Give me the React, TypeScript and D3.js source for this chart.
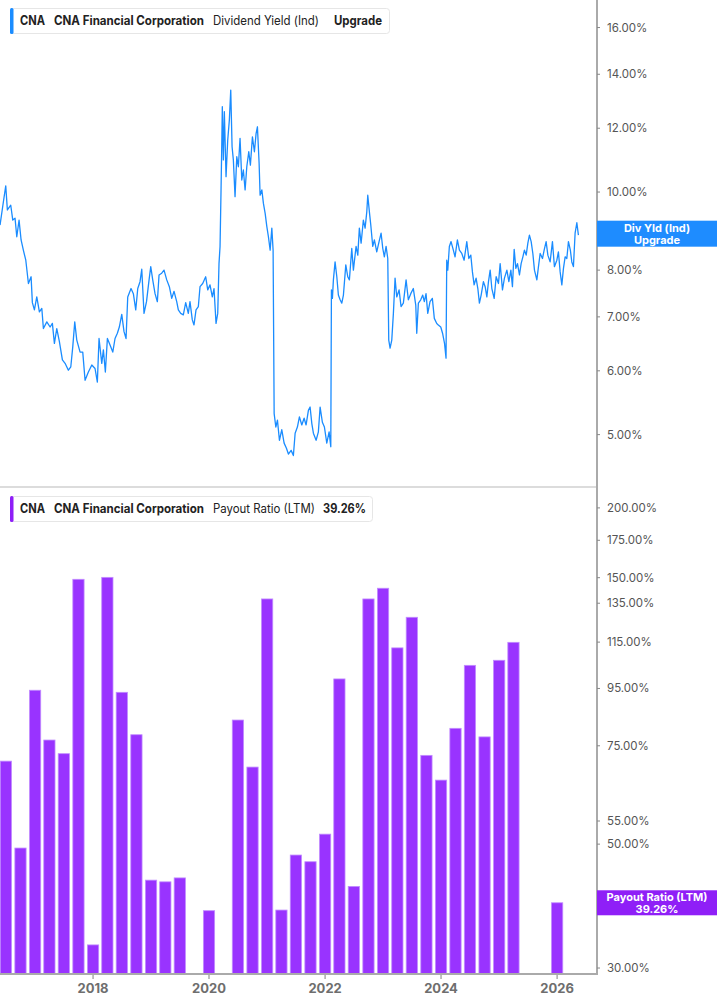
import * as d3 from 'd3'
import React from 'react'

// dividend yield (ind), [decimal year, %]
const yield2016to2018: [number, number][] = [
  [2016.397, 9.10], [2016.454, 9.72], [2016.495, 10.18], [2016.523, 9.50], [2016.581, 9.63],
  [2016.616, 9.23], [2016.655, 9.28], [2016.685, 8.80], [2016.724, 9.23], [2016.759, 8.72],
  [2016.798, 8.47], [2016.840, 8.23], [2016.885, 7.70], [2016.931, 7.85], [2016.953, 7.29],
  [2016.988, 7.14], [2017.029, 7.41], [2017.074, 7.10], [2017.116, 7.17], [2017.143, 6.77],
  [2017.202, 6.90], [2017.259, 6.80], [2017.298, 6.87], [2017.333, 6.49], [2017.374, 6.77],
  [2017.419, 6.52], [2017.471, 6.19], [2017.517, 6.13], [2017.574, 6.01], [2017.616, 6.07],
  [2017.650, 6.43], [2017.684, 6.90], [2017.719, 6.55], [2017.776, 6.33], [2017.822, 6.33],
  [2017.862, 5.84], [2017.919, 5.98], [2017.978, 6.10], [2018.034, 6.04], [2018.074, 5.81],
  [2018.103, 6.58], [2018.150, 6.13], [2018.178, 6.37], [2018.212, 5.98], [2018.247, 6.58],
  [2018.293, 6.46], [2018.340, 6.33], [2018.379, 6.58], [2018.419, 6.68], [2018.453, 6.80],
  [2018.495, 7.05], [2018.534, 6.71], [2018.569, 6.58], [2018.598, 7.41], [2018.655, 7.59],
  [2018.695, 7.48], [2018.736, 7.14], [2018.771, 7.59], [2018.810, 7.74], [2018.840, 8.02],
  [2018.879, 7.07], [2018.922, 7.31], [2018.966, 7.78], [2018.995, 8.08],
]

const yield2019to2020: [number, number][] = [
  [2019.029, 7.78], [2019.069, 7.48], [2019.109, 7.31], [2019.138, 7.89], [2019.184, 7.93],
  [2019.224, 8.00], [2019.271, 7.78], [2019.316, 7.63], [2019.357, 7.38], [2019.397, 7.53],
  [2019.443, 7.31], [2019.471, 7.14], [2019.512, 7.07], [2019.557, 7.04], [2019.598, 7.29],
  [2019.643, 7.07], [2019.672, 7.31], [2019.712, 6.94], [2019.741, 6.84], [2019.776, 7.14],
  [2019.816, 7.21], [2019.845, 7.63], [2019.891, 7.70], [2019.943, 7.85], [2019.978, 7.56],
  [2020.017, 7.67], [2020.057, 7.41], [2020.086, 7.59], [2020.121, 6.87], [2020.150, 7.07],
  [2020.172, 8.15], [2020.190, 8.56], [2020.207, 10.06], [2020.219, 11.38], [2020.229, 12.76],
  [2020.247, 10.96], [2020.264, 12.58], [2020.293, 10.45], [2020.322, 11.60], [2020.350, 12.28],
  [2020.374, 13.38], [2020.397, 11.38], [2020.419, 10.96], [2020.448, 9.87], [2020.478, 11.06],
  [2020.505, 10.75], [2020.534, 11.66], [2020.564, 10.35], [2020.591, 10.65], [2020.621, 10.06],
  [2020.650, 10.75], [2020.684, 11.22], [2020.712, 10.80], [2020.747, 11.71], [2020.781, 11.22],
  [2020.810, 11.82], [2020.833, 12.05], [2020.862, 10.86], [2020.879, 9.91], [2020.909, 10.06],
  [2020.936, 9.68], [2020.966, 9.41], [2020.995, 9.06],
]

const yield2021to2022: [number, number][] = [
  [2021.022, 8.80], [2021.052, 8.47], [2021.081, 9.02], [2021.103, 8.47], [2021.121, 5.31],
  [2021.150, 5.11], [2021.178, 5.21], [2021.212, 4.92], [2021.253, 5.07], [2021.293, 4.88],
  [2021.333, 4.81], [2021.367, 4.73], [2021.414, 4.78], [2021.453, 4.71], [2021.483, 5.02],
  [2021.522, 5.11], [2021.557, 5.26], [2021.598, 5.14], [2021.638, 5.24], [2021.672, 5.14],
  [2021.712, 5.36], [2021.741, 5.41], [2021.771, 5.16], [2021.798, 5.02], [2021.845, 4.92],
  [2021.884, 5.04], [2021.914, 5.41], [2021.953, 5.18], [2021.988, 5.11], [2022.029, 4.88],
  [2022.069, 5.04], [2022.098, 4.83], [2022.109, 7.56], [2022.126, 7.38], [2022.143, 7.78],
  [2022.172, 8.19], [2022.202, 7.85], [2022.229, 7.45], [2022.259, 7.35], [2022.288, 7.28],
  [2022.316, 7.45], [2022.357, 8.12], [2022.391, 7.85], [2022.419, 7.78], [2022.460, 8.51],
  [2022.488, 8.00], [2022.534, 8.56], [2022.564, 8.35], [2022.591, 9.02], [2022.621, 8.64],
  [2022.660, 9.23], [2022.690, 9.02], [2022.719, 9.45], [2022.736, 9.91], [2022.764, 9.45],
  [2022.788, 9.10], [2022.822, 8.56], [2022.850, 8.72], [2022.891, 8.43], [2022.931, 8.68],
  [2022.966, 8.89], [2022.995, 8.51],
]

const yield2023to2024: [number, number][] = [
  [2023.022, 8.31], [2023.052, 8.56], [2023.081, 8.27], [2023.098, 6.55], [2023.121, 6.40],
  [2023.150, 6.55], [2023.178, 7.07], [2023.207, 7.82], [2023.236, 7.41], [2023.276, 7.56],
  [2023.310, 7.21], [2023.350, 7.28], [2023.397, 7.78], [2023.436, 7.35], [2023.478, 7.48],
  [2023.522, 7.59], [2023.564, 7.24], [2023.581, 6.68], [2023.609, 7.28], [2023.650, 7.35],
  [2023.684, 7.45], [2023.712, 7.31], [2023.741, 7.48], [2023.771, 7.07], [2023.810, 7.31],
  [2023.850, 7.38], [2023.884, 6.97], [2023.926, 6.87], [2023.953, 6.84], [2023.995, 6.80],
  [2024.026, 6.68], [2024.060, 6.49], [2024.086, 6.22], [2024.098, 8.23], [2024.116, 8.00],
  [2024.143, 8.56], [2024.172, 8.68], [2024.212, 8.47], [2024.241, 8.31], [2024.281, 8.72],
  [2024.316, 8.47], [2024.357, 8.39], [2024.397, 8.23], [2024.443, 8.68], [2024.478, 8.27],
  [2024.512, 8.35], [2024.540, 7.96], [2024.569, 7.67], [2024.603, 7.82], [2024.633, 7.59],
  [2024.660, 7.28], [2024.690, 7.45], [2024.729, 7.74], [2024.759, 7.63], [2024.788, 7.41],
  [2024.816, 7.74], [2024.845, 8.00], [2024.874, 7.59], [2024.914, 7.38], [2024.948, 7.85],
  [2024.988, 7.70],
]

const yield2025to2026: [number, number][] = [
  [2025.017, 8.15], [2025.057, 7.56], [2025.091, 7.82], [2025.133, 8.00], [2025.167, 7.74],
  [2025.202, 8.00], [2025.229, 7.63], [2025.259, 8.49], [2025.288, 8.04], [2025.316, 8.15],
  [2025.350, 7.89], [2025.379, 8.15], [2025.409, 8.31], [2025.436, 8.47], [2025.466, 8.35],
  [2025.495, 8.64], [2025.522, 8.84], [2025.552, 8.68], [2025.581, 8.39], [2025.609, 8.00],
  [2025.650, 7.78], [2025.678, 8.08], [2025.707, 8.39], [2025.747, 8.27], [2025.776, 8.47],
  [2025.810, 8.68], [2025.840, 8.35], [2025.879, 8.19], [2025.919, 8.68], [2025.953, 8.08],
  [2025.995, 8.23], [2026.022, 8.43], [2026.052, 7.96], [2026.081, 7.67], [2026.109, 8.04],
  [2026.138, 8.31], [2026.167, 8.27], [2026.195, 8.68], [2026.228, 8.47], [2026.253, 8.19],
  [2026.281, 8.08], [2026.310, 8.89], [2026.340, 9.16], [2026.367, 8.84],
]

// payout ratio (LTM), quarterly from Q3 2016, null = not reported
const payoutStart = '2016-07-01'
const payoutRatio: (number | null)[] = [
  70.4, 49.2, 94.3, 76.8, 72.6, 149.0, 33.0, 150.2, 93.5, 78.5,
  43.1, 42.8, 43.5, null, 38.0, null, 83.4, 68.7, 137.4, 38.1,
  47.8, 46.5, 52.1, 98.8, 42.0, 137.4, 143.6, 112.3, 127.4, 72.1,
  65.1, 80.6, 104.5, 77.8, 106.7, 114.9, null, null, 39.26,
]

const yieldTicks = [5, 6, 7, 8, 10, 12, 14, 16]
const payoutTicks = [30, 50, 55, 75, 95, 115, 135, 150, 175, 200]
const yearTicks = ['2018', '2020', '2022', '2024', '2026']

const W = 717, H = 1005
const plotR = 597
const topB = 487
const botB = 974
const font = 'Inter, Roboto, sans-serif'
const blue = '#1a8cff'
const purple = '#9933ff'

const toDate = (t: number) => {
  const y = Math.floor(t)
  const a = +new Date(y, 0, 1), b = +new Date(y + 1, 0, 1)
  return new Date(a + (t - y) * (b - a))
}

// legend chip: accent + texts squeezed to the widths seen in the source
const Legend = ({ y, w, color, items }: { y: number, w: number, color: string, items: [string, number, number, boolean][] }) => (
  <g transform={`translate(10,${y})`}>
    <rect x={0.5} y={0.5} width={w} height={25} rx={3} fill='#fff' stroke='#e6e6e6' />
    <rect x={0} y={0} width={3.5} height={26} rx={1.5} fill={color} />
    {items.map(([s, x0, len, bold]) => (
      <text key={s} x={x0} y={17} fontSize={12.5} fill='#222' fontWeight={bold ? 700 : 400}
        textLength={len} lengthAdjust='spacingAndGlyphs'>{s}</text>
    ))}
  </g>
)

export default function App() {
  const
    divYield = [...yield2016to2018, ...yield2019to2020, ...yield2021to2022, ...yield2023to2024, ...yield2025to2026],
    x = d3.scaleTime().domain([new Date(2016, 4, 25), new Date(2026, 8, 9)]).range([0, plotR]),
    yTop = d3.scaleLog().domain([4.305, 17.31]).range([topB, 0]),
    yBot = d3.scaleLog().domain([29.27, 218]).range([botB, topB]),
    ln = d3.line<[number, number]>()
      .x(d => x(toDate(d[0])))
      .y(d => yTop(d[1])),
    q0 = new Date(payoutStart),
    bars = payoutRatio.map((v, i) => ({ d: d3.timeMonth.offset(q0, i * 3), v })),
    slot = x(d3.timeMonth.offset(q0, 3)) - x(q0),
    bw = slot * 0.77,
    fmt = (v: number) => d3.format('.2f')(v) + '%',
    last = divYield[divYield.length - 1][1],
    lastPayout = payoutRatio[payoutRatio.length - 1] as number

  return (
    <svg width={W} height={H} style={{ position: 'absolute', left: 0, top: 0, background: '#fff' }} fontFamily={font}>
      <defs>
        <clipPath id='topclip'><rect x={0} y={0} width={plotR} height={topB} /></clipPath>
      </defs>

      {/* top panel: dividend yield */}
      <path d={ln(divYield) as string} fill='none' stroke={blue} strokeWidth={1.3} strokeLinejoin='round' clipPath='url(#topclip)' />

      {/* bottom panel: payout ratio bars */}
      {bars.filter(b => b.v != null).map((b, i) => (
        <rect key={i} x={x(b.d) - bw / 2} y={yBot(b.v as number)} width={bw} height={botB - yBot(b.v as number)}
          fill={purple} stroke='#c18cff' strokeWidth={0.8} />
      ))}

      {/* separator and axes */}
      <line x1={0} x2={plotR} y1={topB} y2={topB} stroke='#dcdcdc' strokeWidth={2} />
      <line x1={0} x2={plotR + 1} y1={botB} y2={botB} stroke='#aaa' strokeWidth={2} />
      <line x1={plotR} x2={plotR} y1={0} y2={botB + 1} stroke='#aaa' strokeWidth={2} />

      {yieldTicks.map(t => (
        <g key={'yt' + t} transform={`translate(${plotR},${yTop(t)})`}>
          <line x1={0} x2={3} stroke='#888' />
          <text x={10} dy='0.35em' fontSize={11.5} fill='#555'>{fmt(t)}</text>
        </g>
      ))}
      {payoutTicks.map(t => (
        <g key={'pt' + t} transform={`translate(${plotR},${yBot(t)})`}>
          <line x1={0} x2={3} stroke='#888' />
          <text x={10} dy='0.35em' fontSize={11.5} fill='#555'>{fmt(t)}</text>
        </g>
      ))}
      {yearTicks.map(t => {
        const xx = x(new Date(+t, 0, 1))
        return (
          <g key={t} transform={`translate(${xx},${botB})`}>
            <line y1={0} y2={5} stroke='#aaa' strokeWidth={1.5} />
            <text y={19} textAnchor='middle' fontSize={13} fontWeight={700} fill='#6e6e6e'>{t}</text>
          </g>
        )
      })}

      {/* last value labels */}
      <g transform={`translate(${plotR},${yTop(last) - 1.5})`}>
        <rect x={0} y={-13} width={W - plotR} height={26} fill='#1e8cff' />
        <text x={60} y={-2} textAnchor='middle' fontSize={11} fontWeight={700} fill='#fff'>Div Yld (Ind)</text>
        <text x={60} y={10} textAnchor='middle' fontSize={11} fontWeight={700} fill='#fff'>Upgrade</text>
      </g>
      <g transform={`translate(${plotR},${yBot(lastPayout)})`}>
        <rect x={0} y={-12.5} width={W - plotR} height={25} fill='#8f1ff7' />
        <text x={60} y={-2} textAnchor='middle' fontSize={11} fontWeight={700} fill='#fff'>Payout Ratio (LTM)</text>
        <text x={60} y={10} textAnchor='middle' fontSize={11} fontWeight={700} fill='#fff'>{fmt(lastPayout)}</text>
      </g>

      {/* legends */}
      <Legend y={8} w={379} color={blue} items={[
        ['CNA', 10, 25, true],
        ['CNA Financial Corporation', 44, 150, true],
        ['Dividend Yield (Ind)', 203, 106, false],
        ['Upgrade', 324, 48, true],
      ]} />
      <Legend y={496} w={362} color='#8f1ff7' items={[
        ['CNA', 10, 25, true],
        ['CNA Financial Corporation', 44, 150, true],
        ['Payout Ratio (LTM)', 203, 102, false],
        [fmt(lastPayout), 313, 43, true],
      ]} />
    </svg>
  )
}
